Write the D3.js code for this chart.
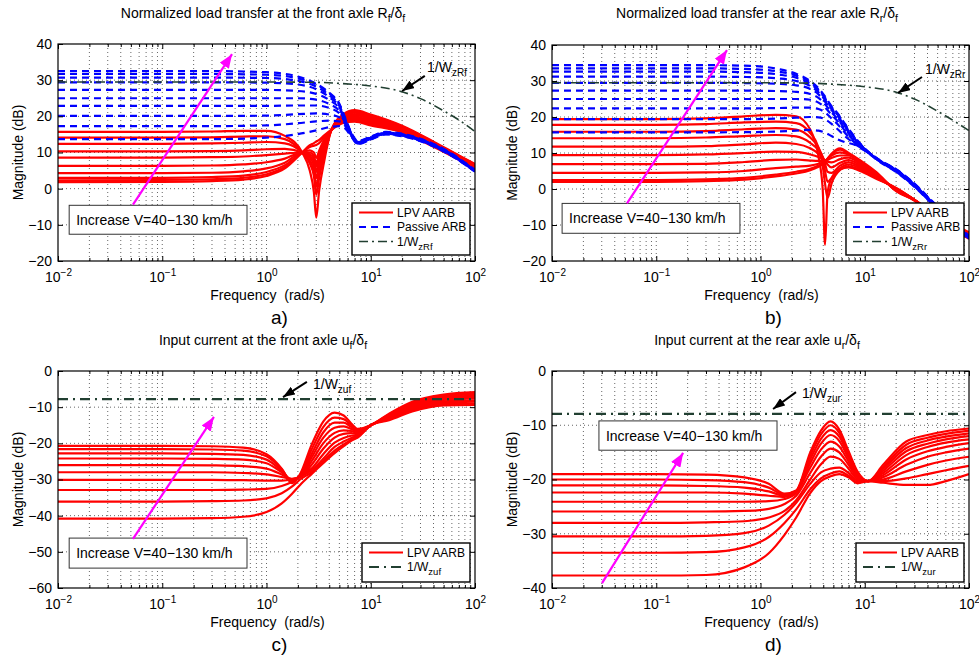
<!DOCTYPE html>
<html>
<head>
<meta charset="utf-8">
<script src="https://cdn.jsdelivr.net/npm/d3@7"></script>
<style>
  body { margin: 0; background: #fff; }
  svg text { font-family: "Liberation Sans", Arial, Helvetica, sans-serif; fill: #000; }
</style>
</head>
<body>
<svg id="fig" width="979" height="663"></svg>
<script>
// ---- axis ticks ----
const freqTicks = [0.01, 0.1, 1, 10, 100];
const freqExp = ['−2', '−1', '0', '1', '2'];
const yTicksAB = [40, 30, 20, 10, 0, -10, -20];
const yTicksC = [0, -10, -20, -30, -40, -50, -60];
const yTicksD = [0, -10, -20, -30, -40];

// ---- a) front axle load transfer ----
const fA = [0.01, 0.1, 0.3, 0.6, 1, 1.5, 2.2, 2.6, 2.85, 3, 3.2, 3.6, 4.2, 5.5, 7, 10, 20, 40, 70, 100];
const lpvA = [
  [15.7, 15.7, 15.8, 16.0, 16.0, 14.6, 10.0, 5.0, -1.0, -8.0, -0.5, 8.0, 16.3, 20.6, 21.7, 20.5, 17.4, 13.0, 9.2, 6.8],
  [14.1, 14.1, 14.2, 14.4, 14.5, 13.7, 10.0, 7.0, 3.5, -1.7, 3.0, 9.5, 16.3, 20.3, 21.3, 20.2, 17.2, 12.8, 9.1, 6.7],
  [12.4, 12.4, 12.5, 12.7, 12.9, 12.5, 10.0, 7.8, 5.0, 0.5, 5.0, 10.5, 16.3, 20.0, 21.0, 19.8, 17.0, 12.7, 8.9, 6.5],
  [10.3, 10.3, 10.4, 10.6, 10.9, 11.0, 10.0, 8.5, 6.5, 2.9, 6.5, 11.3, 16.3, 19.7, 20.6, 19.5, 16.8, 12.5, 8.8, 6.4],
  [8.6, 8.6, 8.7, 8.9, 9.3, 9.7, 10.0, 9.0, 7.5, 4.7, 7.8, 12.0, 16.3, 19.4, 20.3, 19.2, 16.6, 12.4, 8.7, 6.3],
  [6.3, 6.3, 6.4, 6.7, 7.3, 8.3, 10.0, 9.5, 8.3, 6.1, 8.8, 12.6, 16.3, 19.1, 19.9, 18.8, 16.4, 12.2, 8.5, 6.1],
  [4.3, 4.3, 4.4, 4.8, 5.6, 7.2, 10.0, 10.0, 9.0, 7.0, 9.6, 13.2, 16.3, 18.8, 19.6, 18.5, 16.2, 12.1, 8.4, 6.0],
  [3.0, 3.0, 3.2, 3.6, 4.6, 6.5, 10.0, 10.6, 10.0, 8.5, 10.5, 13.7, 16.3, 18.6, 19.2, 18.2, 16.0, 11.9, 8.3, 5.9],
  [2.3, 2.4, 2.6, 3.0, 4.0, 6.0, 10.0, 11.5, 11.9, 12.1, 12.6, 14.3, 16.3, 18.4, 18.8, 17.8, 15.8, 11.8, 8.1, 5.7],
  [1.8, 1.9, 2.1, 2.5, 3.5, 5.6, 10.0, 12.0, 12.6, 13.0, 13.5, 14.8, 16.3, 18.2, 18.5, 17.5, 15.6, 11.6, 8.0, 5.6]
];
const fAp = [0.01, 0.3, 1, 2, 3, 4, 5, 5.7, 6.5, 7.5, 10, 14, 20, 30, 50, 100];
const passiveA = [
  [32.5, 32.5, 32.2, 31.0, 29.0, 26.5, 23.5, 19.5, 15.5, 13.2, 14.4, 15.7, 15.2, 13.8, 11.0, 5.2],
  [31.7, 31.7, 31.5, 30.5, 28.8, 26.3, 23.2, 19.3, 15.4, 13.1, 14.3, 15.6, 15.1, 13.7, 10.9, 5.1],
  [30.7, 30.7, 30.6, 29.8, 28.2, 25.8, 22.9, 19.1, 15.3, 13.0, 14.2, 15.5, 15.0, 13.6, 10.8, 5.0],
  [29.4, 29.4, 29.3, 28.8, 27.5, 25.3, 22.6, 18.9, 15.2, 12.9, 14.1, 15.5, 15.0, 13.6, 10.8, 5.0],
  [27.3, 27.3, 27.3, 27.0, 26.2, 24.5, 22.1, 18.7, 15.1, 12.8, 14.1, 15.4, 14.9, 13.5, 10.7, 4.9],
  [25.0, 25.0, 25.0, 25.0, 24.6, 23.4, 21.5, 18.5, 15.0, 12.7, 14.0, 15.3, 14.8, 13.4, 10.6, 4.9],
  [22.9, 22.9, 22.9, 23.0, 23.0, 22.3, 20.8, 18.2, 14.9, 12.6, 13.9, 15.3, 14.8, 13.4, 10.6, 4.8],
  [20.1, 20.1, 20.2, 20.6, 20.8, 20.5, 19.7, 17.8, 14.8, 12.5, 13.8, 15.2, 14.7, 13.3, 10.5, 4.8],
  [17.3, 17.3, 17.5, 18.1, 18.6, 18.8, 18.6, 17.3, 14.6, 12.4, 13.7, 15.1, 14.6, 13.2, 10.4, 4.7],
  [13.7, 13.7, 14.1, 15.1, 16.1, 17.0, 17.3, 16.6, 14.4, 12.3, 13.6, 15.0, 14.5, 13.1, 10.3, 4.7]
];
const fW = [0.01, 1, 3, 5, 10, 20, 30, 50, 70, 100];
const wzRf = [29.5, 29.5, 29.4, 29.1, 28.4, 26.8, 24.9, 21.5, 19.0, 15.8];

// ---- b) rear axle load transfer ----
const fB = [0.01, 0.1, 0.3, 0.7, 1.4, 2.2, 3, 3.6, 3.95, 4.16, 4.4, 4.8, 5.8, 7, 9, 13, 20, 30, 50, 100];
const lpvB = [
  [19.4, 19.4, 19.6, 20.2, 20.6, 20.2, 16.5, 9.0, 0.0, -15.5, -1.0, 3.0, 5.5, 6.0, 5.0, 2.8, 0.3, -3.0, -7.5, -12.0],
  [17.8, 17.8, 18.0, 18.5, 18.7, 18.3, 15.5, 11.5, 6.5, 1.5, -2.5, 1.5, 5.3, 6.3, 5.4, 3.0, 0.2, -3.0, -7.6, -12.2],
  [15.9, 15.9, 16.1, 16.6, 16.9, 16.5, 14.3, 11.5, 8.5, 5.0, 2.0, 3.0, 5.8, 6.8, 5.8, 3.2, 0.1, -3.0, -7.7, -12.4],
  [14.1, 14.1, 14.3, 14.7, 15.0, 14.6, 12.8, 10.8, 9.0, 7.0, 4.8, 4.5, 6.5, 7.4, 6.2, 3.4, 0.0, -3.0, -7.8, -12.6],
  [11.75, 11.75, 11.9, 12.4, 12.9, 12.5, 11.3, 9.8, 8.8, 7.8, 6.8, 6.0, 7.3, 8.0, 6.6, 3.6, -0.1, -3.0, -7.9, -12.8],
  [9.4, 9.4, 9.6, 10.0, 10.4, 10.3, 9.6, 8.9, 8.4, 8.0, 7.6, 7.4, 8.3, 8.7, 7.0, 3.8, -0.2, -3.0, -8.0, -13.0],
  [6.9, 6.9, 7.0, 7.5, 8.1, 8.2, 7.9, 7.8, 7.8, 7.9, 8.1, 8.6, 9.3, 9.3, 7.4, 4.0, -0.3, -3.1, -8.1, -13.2],
  [4.5, 4.5, 4.6, 5.0, 5.8, 6.2, 6.5, 7.0, 7.4, 7.8, 8.4, 9.3, 10.2, 9.6, 7.6, 4.2, -0.4, -3.1, -8.2, -13.4],
  [2.5, 2.5, 2.7, 3.1, 4.0, 4.8, 5.6, 6.5, 7.1, 7.6, 8.4, 9.6, 10.9, 9.8, 7.8, 4.4, -0.5, -3.2, -8.3, -13.6],
  [2.0, 2.0, 2.2, 2.6, 3.5, 4.3, 5.2, 6.2, 6.9, 7.5, 8.4, 9.8, 11.3, 10.0, 8.0, 4.6, -0.6, -3.2, -8.4, -13.8]
];
const fBp = [0.01, 0.3, 0.8, 1.5, 2.2, 3, 3.6, 4.2, 4.8, 5.5, 6.5, 8, 10.4, 14, 20, 30, 43, 60, 100];
const passiveB = [
  [34.4, 34.4, 34.2, 33.3, 32.0, 30.0, 28.0, 25.5, 23.0, 21.0, 18.0, 14.5, 10.8, 8.0, 5.5, 1.5, -3.0, -7.0, -13.0],
  [33.5, 33.5, 33.3, 32.6, 31.5, 29.6, 27.7, 25.2, 22.8, 20.8, 17.8, 14.3, 10.7, 7.9, 5.4, 1.4, -3.1, -7.1, -13.1],
  [32.6, 32.6, 32.4, 31.8, 30.9, 29.2, 27.4, 25.0, 22.6, 20.6, 17.6, 14.2, 10.7, 7.9, 5.4, 1.3, -3.2, -7.2, -13.2],
  [31.2, 31.2, 31.1, 30.7, 30.0, 28.6, 26.9, 24.6, 22.3, 20.3, 17.3, 14.0, 10.6, 7.8, 5.3, 1.2, -3.3, -7.3, -13.3],
  [29.5, 29.5, 29.4, 29.2, 28.8, 27.8, 26.3, 24.1, 21.9, 19.9, 17.0, 13.8, 10.6, 7.8, 5.2, 1.1, -3.4, -7.4, -13.4],
  [27.3, 27.3, 27.3, 27.2, 27.0, 26.4, 25.3, 23.4, 21.3, 19.4, 16.6, 13.5, 10.5, 7.7, 5.1, 1.0, -3.5, -7.5, -13.5],
  [25.0, 25.0, 25.0, 25.0, 25.0, 24.8, 24.0, 22.5, 20.6, 18.8, 16.1, 13.2, 10.5, 7.7, 5.0, 0.9, -3.5, -7.5, -13.6],
  [22.4, 22.4, 22.4, 22.5, 22.6, 22.6, 22.2, 21.2, 19.6, 18.0, 15.5, 12.9, 10.4, 7.6, 4.9, 0.8, -3.6, -7.6, -13.7],
  [19.4, 19.4, 19.4, 19.6, 19.8, 20.0, 19.9, 19.3, 18.1, 16.6, 14.6, 12.6, 10.4, 7.6, 4.8, 0.7, -3.7, -7.7, -13.8],
  [15.75, 15.75, 15.8, 16.0, 16.2, 16.4, 16.2, 15.6, 14.7, 13.8, 13.0, 12.3, 10.3, 7.5, 4.7, 0.6, -3.8, -7.8, -14.0]
];
const wzRr = [29.5, 29.5, 29.4, 29.1, 28.4, 26.9, 25.0, 21.6, 19.1, 16.2];

// ---- c) front axle input current ----
const fC = [0.01, 0.1, 0.3, 0.6, 1, 1.4, 1.75, 2.1, 2.7, 3.5, 4.5, 5.5, 6.5, 7.5, 10, 15, 25, 50, 100];
const lpvC = [
  [-20.7, -20.7, -20.8, -21.2, -23.0, -27.0, -31.0, -28.5, -20.5, -14.0, -11.5, -12.3, -14.5, -16.0, -15.0, -11.8, -8.5, -6.5, -5.8],
  [-21.6, -21.6, -21.7, -22.0, -23.6, -27.2, -30.5, -28.8, -21.8, -15.5, -12.9, -13.3, -15.0, -16.3, -15.0, -12.0, -8.8, -6.8, -6.1],
  [-22.8, -22.8, -22.9, -23.2, -24.5, -27.6, -30.2, -29.0, -23.0, -17.0, -14.3, -14.3, -15.5, -16.6, -15.0, -12.2, -9.1, -7.1, -6.4],
  [-24.2, -24.2, -24.3, -24.5, -25.5, -28.0, -30.0, -29.2, -24.0, -18.5, -15.7, -15.3, -16.0, -16.9, -15.0, -12.4, -9.4, -7.4, -6.8],
  [-26.0, -26.0, -26.1, -26.3, -27.0, -28.6, -29.9, -29.3, -25.0, -20.0, -17.1, -16.4, -16.6, -17.2, -15.0, -12.6, -9.7, -7.7, -7.2],
  [-28.0, -28.0, -28.0, -28.2, -28.6, -29.3, -29.8, -29.3, -26.0, -21.5, -18.4, -17.4, -17.2, -17.5, -15.0, -12.8, -10.0, -8.0, -7.6],
  [-30.1, -30.1, -30.1, -30.2, -30.3, -30.3, -30.0, -29.2, -27.0, -23.0, -19.8, -18.5, -17.9, -17.8, -15.0, -13.0, -10.3, -8.4, -8.1],
  [-32.9, -32.9, -32.9, -32.8, -32.6, -31.8, -30.7, -29.3, -27.5, -24.3, -21.0, -19.5, -18.5, -18.0, -15.0, -13.2, -10.6, -8.7, -8.5],
  [-36.1, -36.1, -36.0, -35.8, -35.2, -33.8, -32.0, -30.0, -28.0, -25.0, -22.0, -20.3, -19.0, -18.2, -15.0, -13.4, -10.9, -9.1, -9.0],
  [-40.8, -40.8, -40.7, -40.3, -39.0, -36.6, -34.0, -31.5, -28.5, -25.5, -22.7, -20.8, -19.3, -18.4, -15.0, -13.6, -11.2, -9.5, -9.4]
];
const fWu = [0.01, 100];
const wzuf = [-7.8, -7.8];

// ---- d) rear axle input current ----
const fD = [0.01, 0.1, 0.3, 0.7, 1.2, 1.7, 2.2, 3, 3.8, 4.7, 5.7, 7, 8.5, 10.8, 15, 25, 40, 60, 100];
const lpvD = [
  [-19.0, -19.0, -19.1, -19.6, -20.8, -22.6, -22.0, -15.0, -11.0, -9.3, -10.8, -14.8, -18.5, -20.3, -17.3, -13.0, -11.8, -11.1, -10.6],
  [-20.0, -20.0, -20.1, -20.5, -21.5, -22.8, -22.1, -15.6, -11.7, -10.0, -11.4, -15.2, -18.7, -20.3, -17.7, -13.6, -12.3, -11.6, -11.0],
  [-21.1, -21.1, -21.2, -21.5, -22.2, -23.0, -22.2, -16.3, -12.5, -10.9, -12.1, -15.6, -18.9, -20.3, -18.0, -14.2, -12.8, -12.1, -11.5],
  [-22.4, -22.4, -22.4, -22.6, -23.0, -23.2, -22.3, -17.0, -13.4, -11.8, -12.9, -16.1, -19.1, -20.3, -18.4, -14.8, -13.4, -12.6, -12.0],
  [-24.1, -24.1, -24.1, -24.1, -24.0, -23.6, -22.5, -17.8, -14.5, -13.0, -13.9, -16.7, -19.4, -20.3, -18.8, -15.5, -14.0, -13.2, -12.6],
  [-25.9, -25.9, -25.9, -25.8, -25.4, -24.5, -23.0, -18.8, -15.8, -14.3, -15.0, -17.3, -19.6, -20.3, -19.2, -16.3, -14.8, -14.0, -13.3],
  [-28.0, -28.0, -27.9, -27.7, -27.0, -25.8, -23.8, -20.0, -17.2, -15.8, -16.2, -18.0, -19.9, -20.3, -19.6, -17.3, -15.8, -15.0, -14.3],
  [-30.5, -30.5, -30.4, -29.9, -28.5, -26.5, -24.3, -20.8, -18.7, -18.0, -17.8, -18.8, -20.2, -20.3, -20.0, -18.5, -17.3, -16.5, -15.8],
  [-33.5, -33.5, -33.4, -32.5, -30.6, -28.0, -25.5, -21.8, -19.8, -18.9, -18.5, -19.3, -20.5, -20.3, -20.3, -19.8, -19.0, -18.3, -17.5],
  [-37.7, -37.7, -37.6, -36.2, -33.6, -30.2, -27.0, -22.5, -20.3, -19.4, -19.0, -19.6, -20.7, -20.3, -20.6, -21.0, -21.0, -20.3, -19.0]
];
const wzur = [-7.9, -7.9];

// ---- annotations, in data units (frequency, dB) ----
const incA = { box: [0.0128, -4.6, 0.65, -12.6], arrow: [0.0524, -4.4, 0.467, 37.2] };
const incB = { box: [0.0125, -4.0, 0.635, -12.3], arrow: [0.0524, -4.0, 0.477, 38.6] };
const incC = { box: [0.0128, -46.2, 0.65, -54.5], arrow: [0.0524, -46.4, 0.313, -12.7] };
const incD = { box: [0.0282, -9.2, 1.44, -14.6], arrow: [0.0302, -39.1, 0.181, -15.1] };
const wLabA = { arrow: [33, 31.2, 20, 27.0], text: [34.7, 32.3] };
const wLabB = { arrow: [35.4, 31.1, 20.9, 26.7], text: [37.8, 32.0] };
const wLabC = { arrow: [2.44, -3.0, 1.44, -7.2], text: [2.79, -4.9] };
const wLabD = { arrow: [2.19, -3.9, 1.32, -7.0], text: [2.5, -5.0] };

const RED = '#ff0000', BLUE = '#0000ff', GREEN = '#213f31', MAG = '#ff00ff';

const svg = d3.select('#fig');
const defs = svg.append('defs');

function marker(id, color, len, wid) {
  defs.append('marker').attr('id', id)
    .attr('viewBox', `0 0 ${len} ${wid}`)
    .attr('refX', len).attr('refY', wid / 2)
    .attr('markerWidth', len).attr('markerHeight', wid)
    .attr('markerUnits', 'userSpaceOnUse').attr('orient', 'auto')
    .append('path').attr('d', `M0,0L${len},${wid / 2}L0,${wid}Z`).attr('fill', color);
}
marker('headM', MAG, 14, 11);
marker('headK', '#000', 12, 9);

// text with sub / superscripts
function rich(sel, parts, small) {
  let off = 0;
  parts.forEach(([s, k]) => {
    const target = k === 'sub' ? 4 : k === 'sup' ? -6 : 0;
    const t = sel.append('tspan').attr('dy', target - off).text(s);
    if (k) t.attr('font-size', small);
    off = target;
  });
}

const styles = {
  lpv: { color: RED, width: 2.2, dash: null },
  passive: { color: BLUE, width: 2.2, dash: '7,5' },
  w: { color: GREEN, width: 1.6, dash: '9,4,2,4' },
  wThick: { color: GREEN, width: 2.2, dash: '10,5,2,5' }
};

function drawPanel(p) {
  const x = d3.scaleLog().domain([0.01, 100]).range([p.left, p.left + p.width]);
  const y = d3.scaleLinear().domain(p.yDomain).range([p.top + p.height, p.top]);
  const g = svg.append('g');

  defs.append('clipPath').attr('id', 'clip' + p.id)
    .append('rect').attr('x', p.left).attr('y', p.top).attr('width', p.width).attr('height', p.height);

  // grid
  const minors = [];
  for (let e = -2; e < 2; e++) for (let m = 1; m < 10; m++) minors.push(m * Math.pow(10, e));
  const vgrid = minors.filter(v => v > 0.011);
  const minorTicks = vgrid.filter(v => !freqTicks.includes(v));
  g.append('g').selectAll('line').data(vgrid).join('line')
    .attr('x1', d => x(d)).attr('x2', d => x(d))
    .attr('y1', p.top).attr('y2', p.top + p.height)
    .attr('stroke', '#666').attr('stroke-width', 1).attr('stroke-dasharray', '1,3');
  g.append('g').selectAll('line').data(p.yTicks.slice(1, -1)).join('line')
    .attr('x1', p.left).attr('x2', p.left + p.width)
    .attr('y1', d => y(d)).attr('y2', d => y(d))
    .attr('stroke', '#666').attr('stroke-width', 1).attr('stroke-dasharray', '1,3');

  // data
  const line = d3.line().x(d => x(d[0])).y(d => y(d[1])).curve(d3.curveMonotoneX);
  const dg = g.append('g').attr('clip-path', `url(#clip${p.id})`);
  p.series.forEach(s => {
    const st = styles[s.style];
    s.rows.forEach(row => {
      dg.append('path').datum(s.f.map((f, i) => [f, row[i]]))
        .attr('d', line).attr('fill', 'none')
        .attr('stroke', st.color).attr('stroke-width', st.width)
        .attr('stroke-dasharray', st.dash).attr('stroke-linejoin', 'round');
    });
  });

  // axes (ticks inward on all sides)
  const bottom = g.append('g').attr('transform', `translate(0,${p.top + p.height})`)
    .call(d3.axisBottom(x).tickValues(freqTicks).tickSizeInner(-5).tickSizeOuter(0).tickFormat(''));
  bottom.selectAll('.tick text').each(function (d, i) {
    const t = d3.select(this).attr('font-size', 14).attr('y', 21).attr('dy', null);
    rich(t, [['10', ''], [freqExp[i], 'sup']], 10);
  });
  g.append('g').attr('transform', `translate(0,${p.top + p.height})`)
    .call(d3.axisBottom(x).tickValues(minorTicks).tickSize(-3).tickFormat(''));
  g.append('g').attr('transform', `translate(0,${p.top})`)
    .call(d3.axisTop(x).tickValues(freqTicks).tickSize(-5).tickFormat(''));
  g.append('g').attr('transform', `translate(0,${p.top})`)
    .call(d3.axisTop(x).tickValues(minorTicks).tickSize(-3).tickFormat(''));
  g.append('g').attr('transform', `translate(${p.left},0)`)
    .call(d3.axisLeft(y).tickValues(p.yTicks).tickSizeInner(-5).tickSizeOuter(0).tickPadding(6)
      .tickFormat(d => d < 0 ? '−' + Math.abs(d) : d))
    .selectAll('text').attr('font-size', 14);
  g.append('g').attr('transform', `translate(${p.left + p.width},0)`)
    .call(d3.axisRight(y).tickValues(p.yTicks).tickSize(-5).tickFormat(''));
  g.selectAll('.domain').remove();
  g.selectAll('.tick line').attr('stroke', '#000');
  g.append('rect').attr('x', p.left).attr('y', p.top).attr('width', p.width).attr('height', p.height)
    .attr('fill', 'none').attr('stroke', '#000').attr('stroke-width', 1.2);

  // labels
  rich(svg.append('text').attr('x', p.titleX).attr('y', p.titleY).attr('text-anchor', 'middle').attr('font-size', 14),
    p.title, 10.5);
  svg.append('text').attr('transform', `translate(${p.left - 35},${p.top + p.height / 2}) rotate(-90)`)
    .attr('text-anchor', 'middle').attr('font-size', 14).text('Magnitude (dB)');
  svg.append('text').attr('x', p.left + p.width / 2 + 1).attr('y', p.top + p.height + 39)
    .attr('text-anchor', 'middle').attr('font-size', 14).attr('xml:space', 'preserve').text('Frequency  (rad/s)');
  svg.append('text').attr('x', p.left + p.width / 2 + 13).attr('y', p.top + p.height + 63)
    .attr('text-anchor', 'middle').attr('font-size', 19).text(p.letter);

  // "Increase V" box and magenta arrow
  const b = p.inc.box;
  g.append('rect').attr('x', x(b[0])).attr('y', y(b[1]))
    .attr('width', x(b[2]) - x(b[0])).attr('height', y(b[3]) - y(b[1]))
    .attr('fill', '#fff').attr('stroke', '#333').attr('stroke-width', 1);
  g.append('text').attr('x', x(b[0]) + 7).attr('y', y(b[1]) + 20).attr('font-size', 14)
    .text('Increase V=40−130 km/h');
  const a = p.inc.arrow;
  g.append('line').attr('x1', x(a[0])).attr('y1', y(a[1])).attr('x2', x(a[2])).attr('y2', y(a[3]))
    .attr('stroke', MAG).attr('stroke-width', 2.2).attr('marker-end', 'url(#headM)');

  // weighting label and black arrow
  const w = p.wLab.arrow;
  g.append('line').attr('x1', x(w[0])).attr('y1', y(w[1])).attr('x2', x(w[2])).attr('y2', y(w[3]))
    .attr('stroke', '#000').attr('stroke-width', 2).attr('marker-end', 'url(#headK)');
  rich(g.append('text').attr('x', x(p.wLab.text[0])).attr('y', y(p.wLab.text[1])).attr('font-size', 14),
    [['1/W', ''], [p.wName, 'sub']], 10);

  // legend
  const lw = p.legend.length === 3 ? 118 : 108;
  const lh = p.legend.length === 3 ? 52 : 39;
  const lx = p.left + p.width - 5 - lw, ly = p.top + p.height - 6 - lh;
  g.append('rect').attr('x', lx).attr('y', ly).attr('width', lw).attr('height', lh)
    .attr('fill', '#fff').attr('stroke', '#000').attr('stroke-width', 1.4);
  p.legend.forEach((e, i) => {
    const st = styles[e.style];
    const cy = ly + 9.5 + i * 14.5;
    g.append('line').attr('x1', lx + 7).attr('x2', lx + 41).attr('y1', cy).attr('y2', cy)
      .attr('stroke', st.color).attr('stroke-width', st.width).attr('stroke-dasharray', st.dash);
    const t = g.append('text').attr('x', lx + 45).attr('y', cy + 4.3).attr('font-size', 12);
    rich(t, e.label, 9.5);
  });
}

drawPanel({
  id: 'a', left: 58, top: 44, width: 417, height: 217, yDomain: [-20, 40], yTicks: yTicksAB,
  titleX: 263, titleY: 18, letter: 'a)',
  title: [['Normalized load transfer at the front axle R', ''], ['f', 'sub'], ['/δ', ''], ['f', 'sub']],
  series: [{ f: fA, rows: lpvA, style: 'lpv' }, { f: fAp, rows: passiveA, style: 'passive' }, { f: fW, rows: [wzRf], style: 'w' }],
  inc: incA, wLab: wLabA, wName: 'zRf',
  legend: [
    { style: 'lpv', label: [['LPV AARB', '']] },
    { style: 'passive', label: [['Passive ARB', '']] },
    { style: 'w', label: [['1/W', ''], ['zRf', 'sub']] }
  ]
});
drawPanel({
  id: 'b', left: 552, top: 45, width: 417, height: 216, yDomain: [-20, 40], yTicks: yTicksAB,
  titleX: 757, titleY: 18, letter: 'b)',
  title: [['Normalized load transfer at the rear axle R', ''], ['r', 'sub'], ['/δ', ''], ['f', 'sub']],
  series: [{ f: fB, rows: lpvB, style: 'lpv' }, { f: fBp, rows: passiveB, style: 'passive' }, { f: fW, rows: [wzRr], style: 'w' }],
  inc: incB, wLab: wLabB, wName: 'zRr',
  legend: [
    { style: 'lpv', label: [['LPV AARB', '']] },
    { style: 'passive', label: [['Passive ARB', '']] },
    { style: 'w', label: [['1/W', ''], ['zRr', 'sub']] }
  ]
});
drawPanel({
  id: 'c', left: 58, top: 371, width: 417, height: 217, yDomain: [-60, 0], yTicks: yTicksC,
  titleX: 263, titleY: 345, letter: 'c)',
  title: [['Input current at the front axle u', ''], ['f', 'sub'], ['/δ', ''], ['f', 'sub']],
  series: [{ f: fC, rows: lpvC, style: 'lpv' }, { f: fWu, rows: [wzuf], style: 'wThick' }],
  inc: incC, wLab: wLabC, wName: 'zuf',
  legend: [
    { style: 'lpv', label: [['LPV AARB', '']] },
    { style: 'wThick', label: [['1/W', ''], ['zuf', 'sub']] }
  ]
});
drawPanel({
  id: 'd', left: 552, top: 371, width: 417, height: 217, yDomain: [-40, 0], yTicks: yTicksD,
  titleX: 757, titleY: 345, letter: 'd)',
  title: [['Input current at the rear axle u', ''], ['r', 'sub'], ['/δ', ''], ['f', 'sub']],
  series: [{ f: fD, rows: lpvD, style: 'lpv' }, { f: fWu, rows: [wzur], style: 'wThick' }],
  inc: incD, wLab: wLabD, wName: 'zur',
  legend: [
    { style: 'lpv', label: [['LPV AARB', '']] },
    { style: 'wThick', label: [['1/W', ''], ['zur', 'sub']] }
  ]
});
</script>
</body>
</html>
